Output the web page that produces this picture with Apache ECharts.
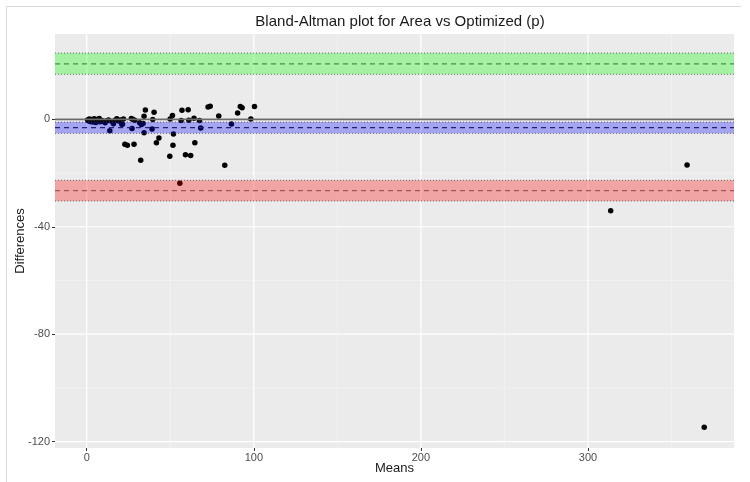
<!DOCTYPE html>
<html><head><meta charset="utf-8">
<script src="https://cdn.jsdelivr.net/npm/echarts@6/dist/echarts.min.js"></script>
<style>html,body{margin:0;padding:0;background:#fff}#c{width:750px;height:482px}</style>
</head><body><div id="c"></div>
<script>
const titleText = 'Bland-Altman plot for Area vs Optimized (p)';
const xName = 'Means';
const yName = 'Differences';
const xMajor = [0, 100, 200, 300];
const xMinor = [50, 150, 250, 350];
const yMajor = [-120, -80, -40, 0];
const yMinor = [-100, -60, -20, 20];
const meanDiff = -3.1;
const upperLoA = 20.7;
const lowerLoA = -26.5;
const upperBand = [16.8, 24.7];
const meanBand = [-5.2, -1.0];
const lowerBand = [-30.4, -22.7];
const means = [0.5,1,1.5,2,2.5,3,3.5,4,4.5,5,5.5,6,6.5,7,7.5,8,9,10,11,12,13,13.8,15,16,17,18,19,20,21,22,
  21.4,22.8,24.3,28.3,26.7,27.7,28.7,27.1,31.7,32.7,32.3,34.3,35.1,34.3,33.7,39.1,39.5,40.3,41.7,43.2,
  49.7,49.9,51.3,51.9,51.6,55.7,56.5,57,60.7,61.1,59.1,62.2,64.2,64.7,67.5,68.2,72.6,73.9,79,82.6,
  86.6,90.3,91.9,93,98.2,100.4,313.6,359.3,369.6];
const diffs = [-0.2,-0.5,0.1,-0.8,-0.3,0,-1.0,-0.4,0.2,-0.6,-1.2,0,-0.5,-0.2,0.3,-0.9,-0.4,-0.7,-1.3,-0.5,-0.2,-4.2,-0.8,-1.6,-0.3,0.2,-0.6,-0.2,-1.8,0.1,
  -1.8,-9.3,-9.6,-9.3,0.3,0,-0.3,-3.4,-1.3,-1.9,-15.2,1.2,3.5,-5.0,-1.5,-3.6,0,2.7,-8.7,-6.9,
  -13.7,0.1,1.4,-5.4,-9.6,-23.8,-0.4,3.4,3.6,-0.3,-13.2,-13.5,0.4,-8.7,-0.4,-3.2,4.6,4.9,1.3,-17.1,
  -1.7,2.4,4.8,4.3,0.1,4.8,-34.0,-17.0,-114.7];

const points = means.map((m, i) => [m, diffs[i]]);
const font = 'Liberation Sans, Arial, sans-serif';

function hLineSeries(vals, color, width, type, z) {
  return {
    type: 'custom', z: z, silent: true, clip: true,
    data: vals.map(v => [0, v]),
    renderItem: (params, api) => {
      const cs = params.coordSys;
      const p = api.coord([0, api.value(1)]);
      return {type: 'line', shape: {x1: cs.x, y1: p[1], x2: cs.x + cs.width, y2: p[1]},
        style: {stroke: color, lineWidth: width, lineDash: type}};
    }
  };
}
function vLineSeries(vals, color, width, z) {
  return {
    type: 'custom', z: z, silent: true, clip: true,
    data: vals.map(v => [v, 0]),
    renderItem: (params, api) => {
      const cs = params.coordSys;
      const p = api.coord([api.value(0), 0]);
      return {type: 'line', shape: {x1: p[0], y1: cs.y, x2: p[0], y2: cs.y + cs.height},
        style: {stroke: color, lineWidth: width}};
    }
  };
}
function bandSeries(bands, colors, z) {
  return {
    type: 'custom', z: z, silent: true, clip: true,
    data: bands.map((b, i) => [b[0], b[1], i]),
    renderItem: (params, api) => {
      const cs = params.coordSys;
      const a = api.coord([0, api.value(0)]);
      const b = api.coord([0, api.value(1)]);
      return {type: 'rect', shape: {x: cs.x, y: b[1], width: cs.width, height: a[1] - b[1]},
        style: {fill: colors[api.value(2)]}};
    }
  };
}

const chart = echarts.init(document.getElementById('c'), null, {renderer: 'canvas'});
chart.setOption({
  animation: false,
  backgroundColor: '#ffffff',
  title: {text: titleText, left: 395, top: 9, textAlign: 'center',
    textStyle: {fontFamily: font, fontSize: 15, fontWeight: 'normal', color: '#1a1a1a'}},
  grid: {left: 55, right: 16, top: 34, bottom: 34, show: true, backgroundColor: '#ebebeb', borderWidth: 0,
    containLabel: false, outerBoundsMode: 'none'},
  xAxis: {type: 'value', min: -19, max: 387.4,
    name: xName, nameLocation: 'middle', nameGap: 14, nameMoveOverlap: false,
    nameTextStyle: {fontFamily: font, fontSize: 13, color: '#1a1a1a'},
    axisLine: {show: false, onZero: false},
    axisTick: {show: true, customValues: xMajor, length: 3, lineStyle: {color: '#333'}},
    axisLabel: {customValues: xMajor, fontFamily: font, fontSize: 11, color: '#4d4d4d', margin: 4},
    splitLine: {show: false}},
  yAxis: {type: 'value', min: -122.4, max: 31.8,
    name: yName, nameLocation: 'middle', nameGap: 28, nameMoveOverlap: false,
    nameTextStyle: {fontFamily: font, fontSize: 13, color: '#1a1a1a'},
    axisLine: {show: false, onZero: false},
    axisTick: {show: true, customValues: yMajor, length: 3, lineStyle: {color: '#333'}},
    axisLabel: {customValues: yMajor, fontFamily: font, fontSize: 11, color: '#4d4d4d', margin: 5},
    splitLine: {show: false}},
  graphic: [{type: 'polyline', silent: true,
    shape: {points: [[6.5, 482], [6.5, 6.5], [741, 6.5]]},
    style: {stroke: '#d9d9d9', lineWidth: 1, fill: null}}],
  series: [
    vLineSeries(xMinor, '#f4f4f4', 0.7, 1),
    hLineSeries(yMinor, '#f4f4f4', 0.7, null, 1),
    vLineSeries(xMajor, '#ffffff', 1.2, 1),
    hLineSeries(yMajor, '#ffffff', 1.2, null, 1),
    {type: 'scatter', z: 3, data: points, symbolSize: 5.5, itemStyle: {color: '#000', opacity: 1}, silent: true},
    bandSeries([upperBand, meanBand, lowerBand],
      ['rgba(0,255,0,0.3)', 'rgba(0,0,255,0.3)', 'rgba(255,0,0,0.3)'], 4),
    hLineSeries([upperBand[0], upperBand[1], meanBand[0], meanBand[1], lowerBand[0], lowerBand[1]],
      'rgba(70,70,70,0.8)', 1, [1, 2], 5),
    hLineSeries([upperLoA], '#4b8f4b', 1.2, [5, 4], 5),
    hLineSeries([meanDiff], '#22226e', 1.2, [5, 4], 5),
    hLineSeries([lowerLoA], '#a35454', 1.2, [5, 4], 5),
    hLineSeries([0], '#6b6b6b', 1.6, null, 5)
  ]
});
</script></body></html>
